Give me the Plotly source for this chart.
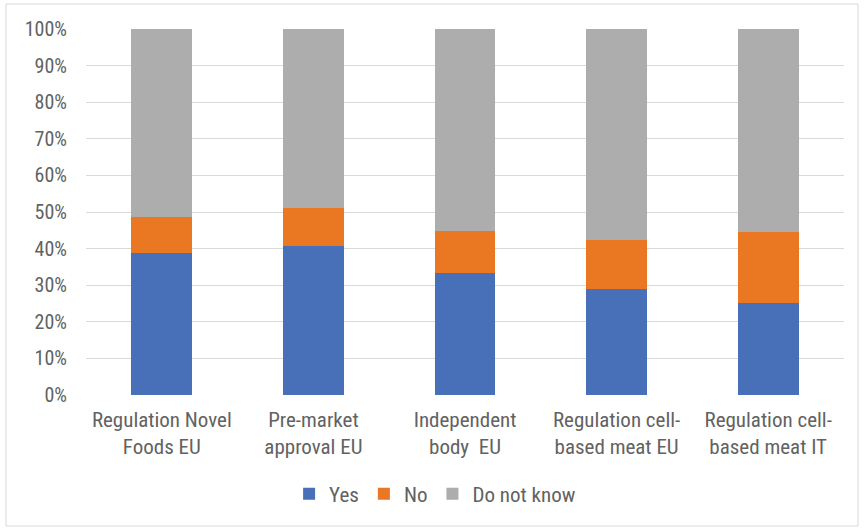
import plotly.graph_objects as go

categories = ["Regulation Novel<br>Foods EU", "Pre-market<br>approval EU", "Independent<br>body  EU",
              "Regulation cell-<br>based meat EU", "Regulation cell-<br>based meat IT"]
yes_vals = [38.9, 40.7, 33.3, 29.0, 25.1]
no_vals = [9.7, 10.4, 11.6, 13.3, 19.5]
dnk_vals = [round(100 - y - n, 1) for y, n in zip(yes_vals, no_vals)]
tick_vals = [0, 10, 20, 30, 40, 50, 60, 70, 80, 90, 100]
tick_text = [f"{v}%" for v in tick_vals]

FONT = "Liberation Sans Narrow, Roboto Condensed, Arial Narrow, sans-serif"
TXT = "#626262"

fig = go.Figure()
fig.add_bar(x=categories, y=yes_vals, name="Yes", marker=dict(color="#4870B8", line=dict(width=0)))
fig.add_bar(x=categories, y=no_vals, name="No", marker=dict(color="#EA7722", line=dict(width=0)))
fig.add_bar(x=categories, y=dnk_vals, name="Do not know", marker=dict(color="#ADADAD", line=dict(width=0)))

fig.update_layout(
    barmode="stack",
    bargap=0.6,
    width=865, height=529,
    margin=dict(l=86, r=21, t=29, b=134),
    paper_bgcolor="white", plot_bgcolor="white",
    font=dict(family=FONT, size=21, color=TXT),
    showlegend=True,
    legend=dict(orientation="h", xref="container", yref="container", x=0.503, xanchor="center",
                y=0.066, yanchor="middle", font=dict(family=FONT, size=21, color=TXT),
                traceorder="normal", itemwidth=30),
    xaxis=dict(showline=False, ticks="", ticklabelstandoff=10, tickfont=dict(family=FONT, size=21, color=TXT)),
    yaxis=dict(range=[0, 100], tickvals=tick_vals, ticktext=tick_text, showgrid=True,
               gridcolor="#D9D9D9", gridwidth=1, zeroline=False, showline=False, ticks="",
               ticklabelstandoff=18, tickfont=dict(family=FONT, size=20, color=TXT)),
    shapes=[dict(type="rect", xref="paper", yref="paper", x0=-80/758, x1=1+14/758,
                 y0=-131/366, y1=1+25/366, line=dict(color="#D9D9D9", width=1), fillcolor="rgba(0,0,0,0)")],
)

fig.write_html("out.html")
